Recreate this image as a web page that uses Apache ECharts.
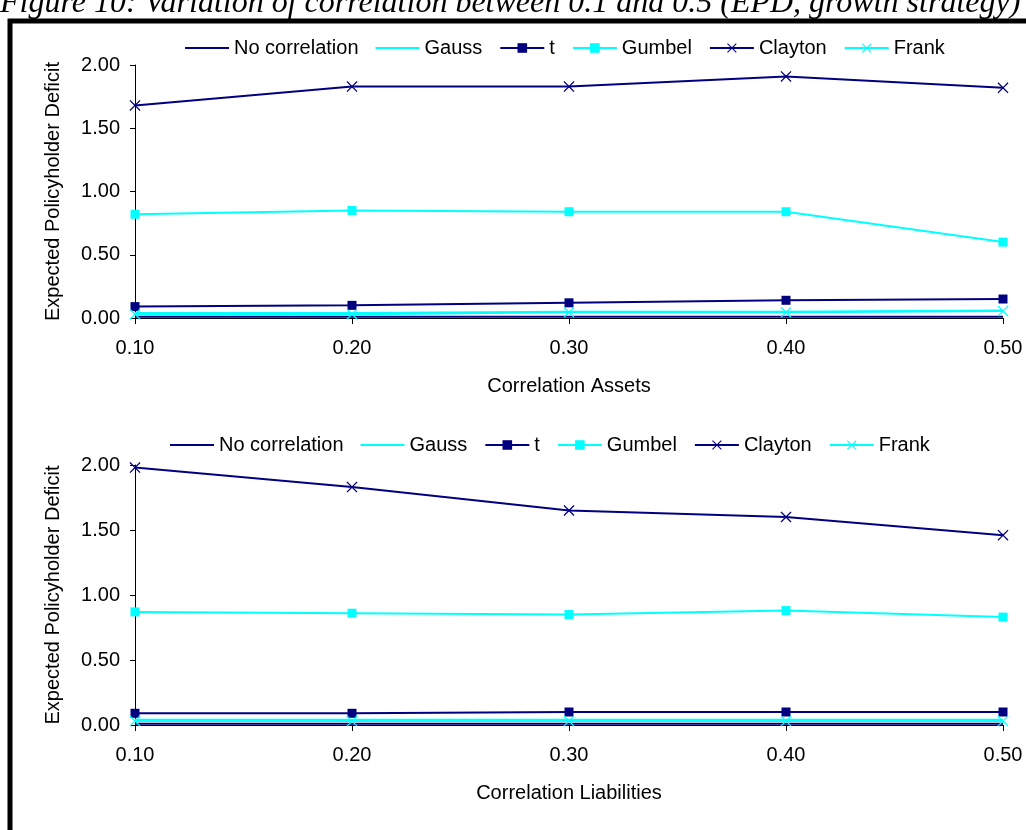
<!DOCTYPE html>
<html>
<head>
<meta charset="utf-8">
<script src="https://cdn.jsdelivr.net/npm/echarts@6/dist/echarts.min.js"></script>
<style>
html,body{margin:0;padding:0;background:#fff;}
#chart{width:1026px;height:830px;}
</style>
</head>
<body>
<div id="chart"></div>
<script>
const figureTitle = 'Figure 10: Variation of correlation between 0.1 and 0.5 (EPD, growth strategy)';
const categories = ['0.10', '0.20', '0.30', '0.40', '0.50'];
const seriesNames = ['No correlation', 'Gauss', 't', 'Gumbel', 'Clayton', 'Frank'];
const yTickValues = [0, 0.5, 1, 1.5, 2];

// Upper panel: Correlation Assets
const assetsNoCorr  = [0.01, 0.01, 0.01, 0.01, 0.01];
const assetsGauss   = [0.04, 0.04, 0.05, 0.05, 0.06];
const assetsT       = [0.09, 0.10, 0.12, 0.14, 0.15];
const assetsGumbel  = [0.82, 0.85, 0.84, 0.84, 0.60];
const assetsClayton = [1.68, 1.83, 1.83, 1.91, 1.82];
const assetsFrank   = [0.03, 0.03, 0.045, 0.045, 0.055];

// Lower panel: Correlation Liabilities
const liabNoCorr  = [0.01, 0.01, 0.01, 0.01, 0.01];
const liabGauss   = [0.04, 0.04, 0.04, 0.04, 0.04];
const liabT       = [0.09, 0.09, 0.10, 0.10, 0.10];
const liabGumbel  = [0.87, 0.86, 0.85, 0.88, 0.83];
const liabClayton = [1.98, 1.83, 1.65, 1.60, 1.46];
const liabFrank   = [0.03, 0.03, 0.03, 0.03, 0.03];

const NAVY = '#000080';
const CYAN = '#00FFFF';
const FONT = '"Liberation Sans", Arial, sans-serif';
const X_SYMBOL = 'path://M0,0.8L0.8,0L5,4.2L9.2,0L10,0.8L5.8,5L10,9.2L9.2,10L5,5.8L0.8,10L0,9.2L4.2,5Z';
const LINE_ICON = 'path://M0,0H44V2H0Z';

const styles = [
  {color: NAVY, symbol: 'none', size: 0},
  {color: CYAN, symbol: 'none', size: 0},
  {color: NAVY, symbol: 'rect', size: 9},
  {color: CYAN, symbol: 'rect', size: 9},
  {color: NAVY, symbol: X_SYMBOL, size: 11},
  {color: CYAN, symbol: X_SYMBOL, size: 11}
];

function makeSeries(dataList, idx) {
  return dataList.map((d, i) => ({
    name: seriesNames[i],
    type: 'line',
    xAxisIndex: idx,
    yAxisIndex: idx,
    data: d,
    symbol: styles[i].symbol,
    symbolSize: styles[i].size,
    showSymbol: styles[i].symbol !== 'none',
    itemStyle: {color: styles[i].color},
    lineStyle: {color: styles[i].color, width: 2},
    animation: false,
    z: 3
  }));
}

const grids = [
  {left: 135, right: 23, top: 65, height: 253},
  {left: 135, right: 23, top: 465, height: 260}
];
const xNames = ['Correlation Assets', 'Correlation Liabilities'];

function xAxis(idx) {
  return {
    type: 'category', gridIndex: idx, data: categories, boundaryGap: false,
    axisLine: {onZero: false, lineStyle: {color: '#000', width: 1}},
    axisTick: {show: true, length: 6, lineStyle: {color: '#000'}},
    axisLabel: {color: '#000', fontFamily: FONT, fontSize: 20, margin: 20},
    splitLine: {show: false},
    name: xNames[idx], nameLocation: 'middle', nameGap: 58,
    nameTextStyle: {color: '#000', fontFamily: FONT, fontSize: 20}
  };
}
function yAxis(idx) {
  return {
    type: 'value', gridIndex: idx, min: yTickValues[0], max: yTickValues[yTickValues.length - 1], interval: 0.5,
    axisLine: {show: true, lineStyle: {color: '#000', width: 1}},
    axisTick: {show: true, length: 5, lineStyle: {color: '#000'}},
    axisLabel: {color: '#000', fontFamily: FONT, fontSize: 20, margin: 15, formatter: v => v.toFixed(2)},
    splitLine: {show: false},
    name: 'Expected Policyholder Deficit', nameLocation: 'middle', nameGap: 72, nameRotate: 90,
    nameTextStyle: {color: '#000', fontFamily: FONT, fontSize: 20}
  };
}
function legend(top, left) {
  return {
    data: seriesNames.map((n, i) => styles[i].symbol === 'none' ? {name: n, icon: LINE_ICON} : {name: n}),
    top: top, left: left,
    orient: 'horizontal',
    itemWidth: 44, itemHeight: 12, itemGap: 17,
    symbolKeepAspect: true,
    textStyle: {color: '#000', fontFamily: FONT, fontSize: 20},
    selectedMode: false
  };
}

const chart = echarts.init(document.getElementById('chart'), null, {renderer: 'canvas'});
chart.setOption({
  backgroundColor: '#fff',
  animation: false,
  grid: grids,
  xAxis: [xAxis(0), xAxis(1)],
  yAxis: [yAxis(0), yAxis(1)],
  legend: [legend(33, 180), legend(430, 165)],
  series: makeSeries([assetsNoCorr, assetsGauss, assetsT, assetsGumbel, assetsClayton, assetsFrank], 0)
    .concat(makeSeries([liabNoCorr, liabGauss, liabT, liabGumbel, liabClayton, liabFrank], 1)),
  graphic: [
    {type: 'rect', shape: {x: 10, y: 21, width: 1100, height: 900},
     style: {fill: 'none', stroke: '#000', lineWidth: 5}, z: 10, silent: true},
    {type: 'text', x: 0, y: 4,
     style: {text: figureTitle, font: 'italic 32px "Liberation Serif", "Times New Roman", serif',
             fill: '#000', verticalAlign: 'middle', align: 'left'}, z: 9, silent: true}
  ]
});
</script>
</body>
</html>
